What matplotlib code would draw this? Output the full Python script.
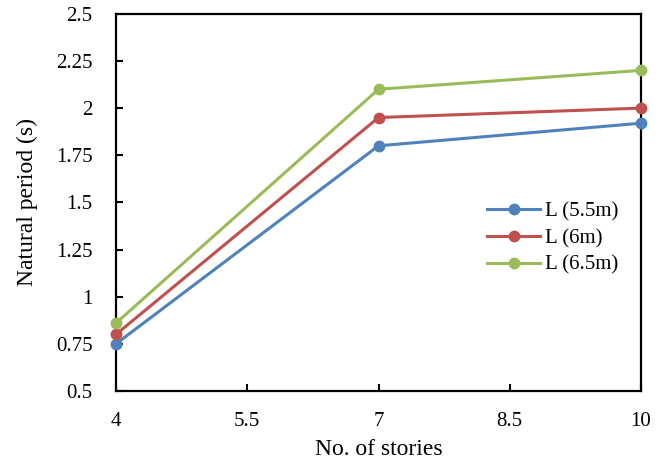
import matplotlib.pyplot as plt

stories = [4, 7, 10]
period_55 = [0.75, 1.80, 1.92]
period_6 = [0.80, 1.95, 2.00]
period_65 = [0.86, 2.10, 2.20]

labels = ["L (5.5m)", "L (6m)", "L (6.5m)"]
colors = ["#4F81BD", "#C0504D", "#9BBB59"]

x_ticks = [4, 5.5, 7, 8.5, 10]
y_ticks = [0.5, 0.75, 1, 1.25, 1.5, 1.75, 2, 2.25, 2.5]
y_tick_labels = ["0.5", "0.75", "1", "1.25", "1.5", "1.75", "2", "2.25", "2.5"]

plt.rcParams['font.family'] = ['Liberation Serif', 'DejaVu Serif']

fig = plt.figure(figsize=(6.67, 4.61), dpi=100)
ax = fig.add_axes([0.174, 0.152, 0.787, 0.818])

for series, label, color in zip([period_55, period_6, period_65], labels, colors):
    ax.plot(stories, series, color=color, marker='o', markersize=7.5, linewidth=2.2,
            label=label, clip_on=False, zorder=3)

ax.set_xlim(4, 10)
ax.set_ylim(0.5, 2.5)
ax.set_xticks(x_ticks)
ax.set_xticklabels([f"{t:g}" for t in x_ticks])
ax.set_yticks(y_ticks)
ax.set_yticklabels(y_tick_labels)
ax.tick_params(direction='in', length=5, width=1.5, labelsize=15)
ax.tick_params(axis='y', pad=17)
ax.tick_params(axis='x', pad=15)

for spine in ax.spines.values():
    spine.set_linewidth(1.6)

ax.set_xlabel("No. of stories", fontsize=17, labelpad=6)
ax.set_ylabel("Natural period (s)", fontsize=17, labelpad=13)

ax.legend(loc='center left', bbox_to_anchor=(0.671, 0.405), frameon=False,
          fontsize=15, handlelength=2.55, handletextpad=0.25, labelspacing=0.35)

fig.savefig("out.png", dpi=100)
